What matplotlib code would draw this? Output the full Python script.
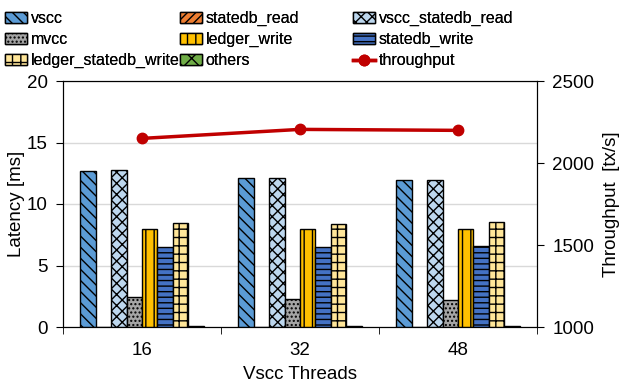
import matplotlib
matplotlib.use("Agg")
import matplotlib.pyplot as plt
import numpy as np

plt.rcParams['font.family'] = ['Liberation Sans', 'DejaVu Sans']
plt.rcParams['hatch.linewidth'] = 1.0

threads = ["16", "32", "48"]
series = ["vscc", "statedb_read", "vscc_statedb_read", "mvcc", "ledger_write",
          "statedb_write", "ledger_statedb_write", "others"]
vscc = [12.7, 12.1, 11.95]
statedb_read = [0.0, 0.0, 0.0]
vscc_statedb_read = [12.8, 12.1, 11.95]
mvcc = [2.4, 2.3, 2.2]
ledger_write = [8.0, 7.95, 7.95]
statedb_write = [6.5, 6.5, 6.6]
ledger_statedb_write = [8.45, 8.4, 8.5]
others = [0.05, 0.05, 0.05]
throughput = [2150, 2205, 2199]

values = [vscc, statedb_read, vscc_statedb_read, mvcc, ledger_write,
          statedb_write, ledger_statedb_write, others]
colors = ["#5B9BD5", "#ED7D31", "#BDD7EE", "#A5A5A5", "#FFC000",
          "#4472C4", "#FFE699", "#70AD47"]
hatches = ["\\\\\\", "////", "xxx", "....", "||", "---", "++", "xx"]

FS = 13.5
LFS = 11.5
W, H = 624, 384
fig = plt.figure(figsize=(6.24, 3.84), dpi=100)
ax = fig.add_axes([63 / W, 1 - 327 / H, (537 - 63) / W, (327 - 81) / H])
x = np.arange(len(threads))
n = len(series)
w = 0.0975
handles = []
for i, (name, vals) in enumerate(zip(series, values)):
    pos = x + (i - (n - 1) / 2) * w
    b = ax.bar(pos, vals, w, color=colors[i], edgecolor="black", hatch=hatches[i],
               linewidth=1.0, label=name, zorder=3)
    handles.append(b)

ax.set_xlim(-0.5, 2.5)
ax.set_ylim(0, 20)
ax.set_yticks([0, 5, 10, 15, 20])
ax.set_xticks(x)
ax.set_xticklabels(threads)
ax.set_xticks([-0.5, 0.5, 1.5, 2.5], minor=True)
ax.tick_params(axis='x', which='major', length=0, labelsize=FS, pad=11)
ax.tick_params(axis='x', which='minor', length=5, direction='out')
ax.tick_params(axis='y', labelsize=FS, length=5, direction='out', pad=6)
ax.grid(axis='y', color='#D9D9D9', linewidth=1, zorder=0)
ax.set_ylabel("Latency [ms]", fontsize=FS, labelpad=1)
ax.set_xlabel("Vscc Threads", fontsize=FS, labelpad=5)

ax2 = ax.twinx()
line, = ax2.plot(x, throughput, color="#C00000", marker="o", markersize=7.5,
                 linewidth=2.5, label="throughput", zorder=5)
ax2.set_ylim(1000, 2500)
ax2.set_yticks([1000, 1500, 2000, 2500])
ax2.tick_params(axis='y', labelsize=FS, length=5, direction='out', pad=6)
ax2.set_ylabel("Throughput  [tx/s]", fontsize=FS, labelpad=6)
handles.append(line)

labels = series + ["throughput"]
cols = [[0, 3, 6], [1, 4, 7], [2, 5, 8]]
xpos = [5, 180, 353]
for c, xp in zip(cols, xpos):
    leg = fig.legend([handles[i] for i in c], [labels[i] for i in c],
                     loc="upper left", bbox_to_anchor=(xp / W, 1 - 11 / H), ncol=1,
                     frameon=False, fontsize=LFS,
                     handlelength=1.4, handleheight=0.7, handletextpad=0.2,
                     labelspacing=0.38, borderaxespad=0, borderpad=0)
    fig.add_artist(leg)

fig.savefig("out.png", dpi=100)
